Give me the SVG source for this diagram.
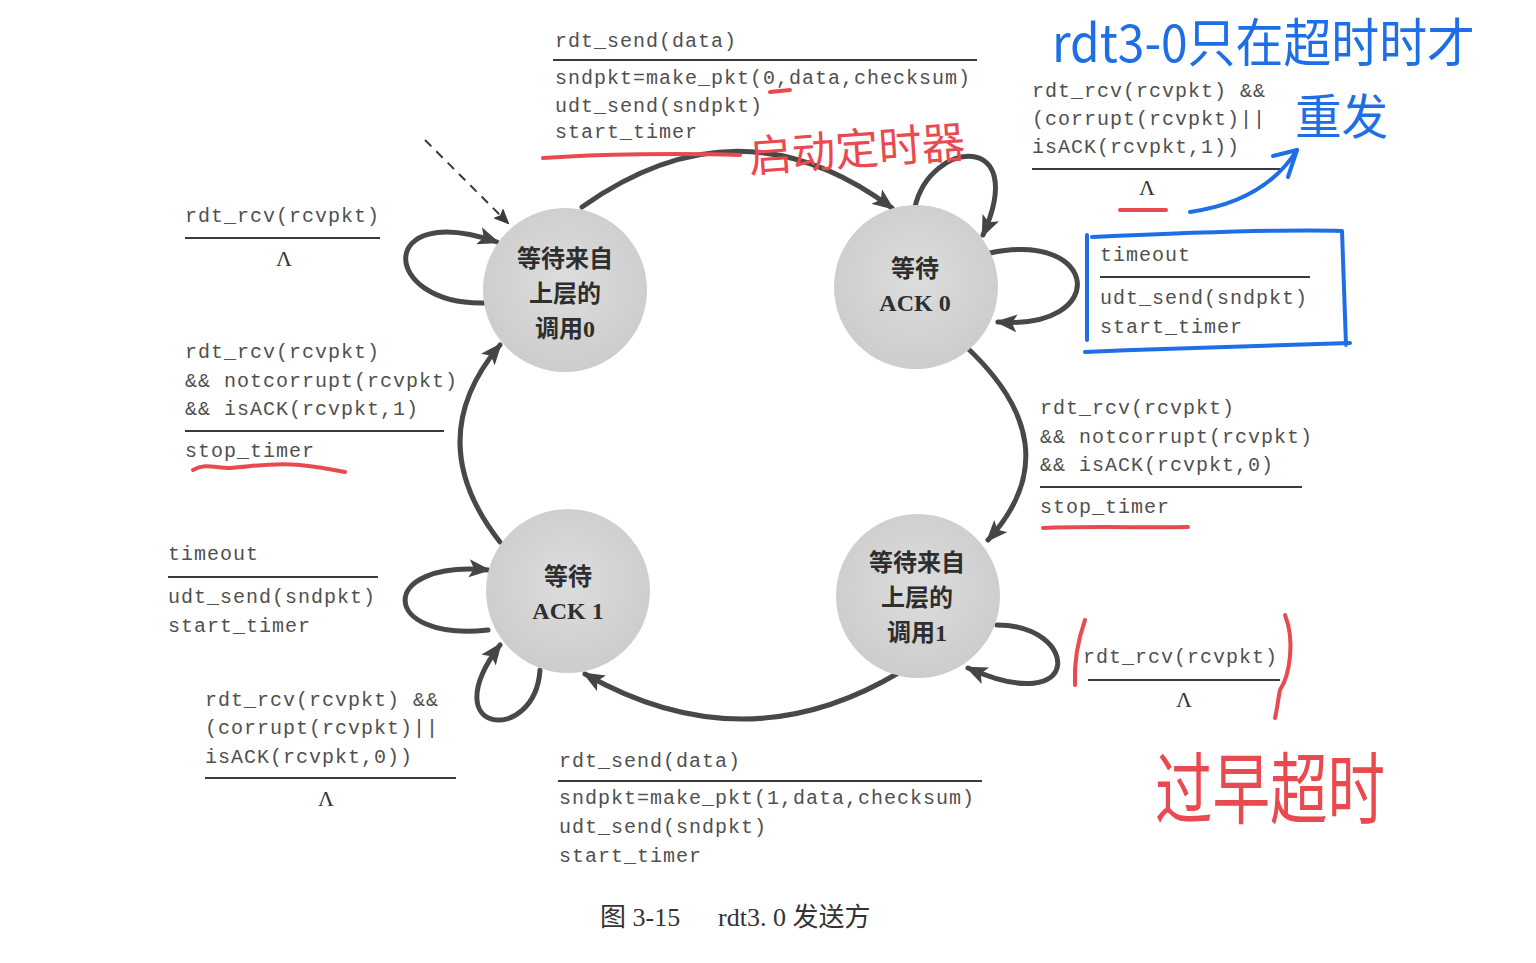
<svg xmlns="http://www.w3.org/2000/svg" width="1536" height="963" viewBox="0 0 1536 963">
<defs>
<radialGradient id="g" cx="50%" cy="45%" r="60%"><stop offset="0" stop-color="#dddddd"/><stop offset="1" stop-color="#cbcbcb"/></radialGradient>
<marker id="ah" markerUnits="userSpaceOnUse" markerWidth="22" markerHeight="18" refX="19" refY="9" orient="auto"><path d="M0,0 L22,9 L0,18 L5,9 z" fill="#454545"/></marker>
<marker id="ahs" markerUnits="userSpaceOnUse" markerWidth="16" markerHeight="14" refX="14" refY="7" orient="auto"><path d="M0,0 L16,7 L0,14 L3,7 z" fill="#3a3a3a"/></marker>
</defs>
<style>
.m{font-family:"Liberation Mono","DejaVu Sans Mono",monospace;font-size:20px;fill:#505050;letter-spacing:1px}
.st{font-family:"Liberation Serif","Noto Sans CJK SC",serif;font-weight:bold;font-size:24px;fill:#2e2e2e;text-anchor:middle}
.c{fill:none;stroke:#484848;stroke-width:5;stroke-linecap:round}
.ln{stroke:#3a3a3a;stroke-width:2}
.lam{font-family:"Liberation Serif",serif;font-size:22px;fill:#333;text-anchor:middle}
.red{fill:none;stroke:#e94a50;stroke-width:4;stroke-linecap:round;stroke-linejoin:round}
.blue{fill:none;stroke:#1e6fe6;stroke-width:4;stroke-linecap:round;stroke-linejoin:round}
.hr{font-family:"Noto Sans CJK SC",sans-serif;fill:#e94a50}
.hb{font-family:"Noto Sans CJK SC",sans-serif;fill:#1e6fe6}
.cap{font-family:"Liberation Serif","Noto Sans CJK SC",serif;font-size:26px;fill:#333}
</style>
<rect width="1536" height="963" fill="#ffffff"/>

<g id="connectors">
<path class="c" d="M582,207 Q740,95 892,208" marker-end="url(#ah)"/>
<path class="c" d="M962,343 Q1075,445 988,540" marker-end="url(#ah)"/>
<path class="c" d="M900,672 Q745,765 585,674" marker-end="url(#ah)"/>
<path class="c" d="M500,542 Q420,440 500,345" marker-end="url(#ah)"/>
<path d="M425,140 L508,223" fill="none" stroke="#3a3a3a" stroke-width="2" stroke-dasharray="9 7" marker-end="url(#ahs)"/>
<path class="c" d="M484,303 C380,305 375,200 497,242" marker-end="url(#ah)"/>
<path class="c" d="M915,207 C930,140 1030,130 983,235" marker-end="url(#ah)"/>
<path class="c" d="M990,253 C1100,230 1110,330 998,322" marker-end="url(#ah)"/>
<path class="c" d="M488,630 C380,642 375,560 488,570" marker-end="url(#ah)"/>
<path class="c" d="M540,670 C535,745 432,735 500,645" marker-end="url(#ah)"/>
<path class="c" d="M997,625 C1080,625 1085,720 968,668" marker-end="url(#ah)"/>
</g>

<g id="s0">
<circle cx="565" cy="290" r="82" fill="url(#g)"/>
<text class="st" x="565" y="267">等待来自</text>
<text class="st" x="565" y="302">上层的</text>
<text class="st" x="565" y="337">调用0</text>
</g>
<g id="s1">
<circle cx="916" cy="287" r="82" fill="url(#g)"/>
<text class="st" x="915" y="277">等待</text>
<text class="st" x="915" y="311">ACK 0</text>
</g>
<g id="s2">
<circle cx="568" cy="591" r="82" fill="url(#g)"/>
<text class="st" x="568" y="585">等待</text>
<text class="st" x="568" y="619">ACK 1</text>
</g>
<g id="s3">
<circle cx="918" cy="596" r="82" fill="url(#g)"/>
<text class="st" x="917" y="571">等待来自</text>
<text class="st" x="917" y="606">上层的</text>
<text class="st" x="917" y="641">调用1</text>
</g>

<g id="label-top">
<text class="m" x="555" y="47">rdt_send(data)</text>
<line class="ln" x1="553" y1="60" x2="977" y2="60"/>
<text class="m" x="555" y="84">sndpkt=make_pkt(0,data,checksum)</text>
<text class="m" x="555" y="112">udt_send(sndpkt)</text>
<text class="m" x="555" y="138">start_timer</text>
</g>
<g id="label-topright">
<text class="m" x="1032" y="97">rdt_rcv(rcvpkt) &amp;&amp;</text>
<text class="m" x="1032" y="125">(corrupt(rcvpkt)||</text>
<text class="m" x="1032" y="153">isACK(rcvpkt,1))</text>
<line class="ln" x1="1032" y1="169" x2="1284" y2="169"/>
<text class="lam" x="1147" y="195">Λ</text>
</g>
<g id="label-lefttop">
<text class="m" x="185" y="222">rdt_rcv(rcvpkt)</text>
<line class="ln" x1="185" y1="238" x2="380" y2="238"/>
<text class="lam" x="284" y="266">Λ</text>
</g>
<g id="label-leftmid">
<text class="m" x="185" y="358">rdt_rcv(rcvpkt)</text>
<text class="m" x="185" y="387">&amp;&amp; notcorrupt(rcvpkt)</text>
<text class="m" x="185" y="415">&amp;&amp; isACK(rcvpkt,1)</text>
<line class="ln" x1="185" y1="431" x2="444" y2="431"/>
<text class="m" x="185" y="457">stop_timer</text>
</g>
<g id="label-timeout0">
<text class="m" x="1100" y="261">timeout</text>
<line class="ln" x1="1100" y1="277" x2="1310" y2="277"/>
<text class="m" x="1100" y="304">udt_send(sndpkt)</text>
<text class="m" x="1100" y="333">start_timer</text>
</g>
<g id="label-rightmid">
<text class="m" x="1040" y="414">rdt_rcv(rcvpkt)</text>
<text class="m" x="1040" y="443">&amp;&amp; notcorrupt(rcvpkt)</text>
<text class="m" x="1040" y="471">&amp;&amp; isACK(rcvpkt,0)</text>
<line class="ln" x1="1040" y1="487" x2="1302" y2="487"/>
<text class="m" x="1040" y="513">stop_timer</text>
</g>
<g id="label-timeout1">
<text class="m" x="168" y="560">timeout</text>
<line class="ln" x1="168" y1="577" x2="378" y2="577"/>
<text class="m" x="168" y="603">udt_send(sndpkt)</text>
<text class="m" x="168" y="632">start_timer</text>
</g>
<g id="label-bottomleft">
<text class="m" x="205" y="706">rdt_rcv(rcvpkt) &amp;&amp;</text>
<text class="m" x="205" y="734">(corrupt(rcvpkt)||</text>
<text class="m" x="205" y="763">isACK(rcvpkt,0))</text>
<line class="ln" x1="205" y1="778" x2="456" y2="778"/>
<text class="lam" x="326" y="806">Λ</text>
</g>
<g id="label-bottom">
<text class="m" x="559" y="767">rdt_send(data)</text>
<line class="ln" x1="558" y1="781" x2="982" y2="781"/>
<text class="m" x="559" y="804">sndpkt=make_pkt(1,data,checksum)</text>
<text class="m" x="559" y="833">udt_send(sndpkt)</text>
<text class="m" x="559" y="862">start_timer</text>
</g>
<g id="label-bottomright">
<text class="m" x="1083" y="663">rdt_rcv(rcvpkt)</text>
<line class="ln" x1="1088" y1="680" x2="1280" y2="680"/>
<text class="lam" x="1184" y="707">Λ</text>
</g>
<g id="caption">
<text class="cap" x="600" y="926">图 3-15</text>
<text class="cap" x="718" y="926">rdt3. 0 发送方</text>
</g>

<g id="annotations">
<path class="red" d="M543,158 C600,154 680,153 740,155"/>
<path class="red" d="M770,92 L790,90"/>
<text class="hr" x="748" y="165" font-size="44" textLength="217" lengthAdjust="spacingAndGlyphs" transform="rotate(-4 856 145)">启动定时器</text>
<text class="hb" x="1052" y="62" font-size="52" textLength="423" lengthAdjust="spacingAndGlyphs">rdt3-0只在超时时才</text>
<text class="hb" x="1295" y="134" font-size="48" textLength="93" lengthAdjust="spacingAndGlyphs">重发</text>
<path class="blue" d="M1190,212 C1240,205 1275,185 1297,150"/>
<path class="blue" d="M1273,156 L1297,150 L1288,177"/>
<path class="red" d="M1120,210 L1166,210"/>
<path class="blue" d="M1087,235 L1087,340 M1092,237 C1180,233 1280,229 1342,231 L1346,345 M1085,352 C1180,348 1280,345 1350,343"/>
<path class="red" d="M193,470 C205,463 215,468 230,468 C250,467 270,462 300,465 C320,467 335,470 345,472"/>
<path class="red" d="M1043,528 C1090,526 1150,528 1188,527"/>
<path class="red" d="M1085,620 C1078,640 1074,665 1075,685"/>
<path class="red" d="M1285,615 C1295,640 1290,675 1280,690 C1278,700 1277,710 1275,718"/>
<text class="hr" x="1155" y="818" font-size="78" textLength="230" lengthAdjust="spacingAndGlyphs">过早超时</text>
</g>
</svg>
